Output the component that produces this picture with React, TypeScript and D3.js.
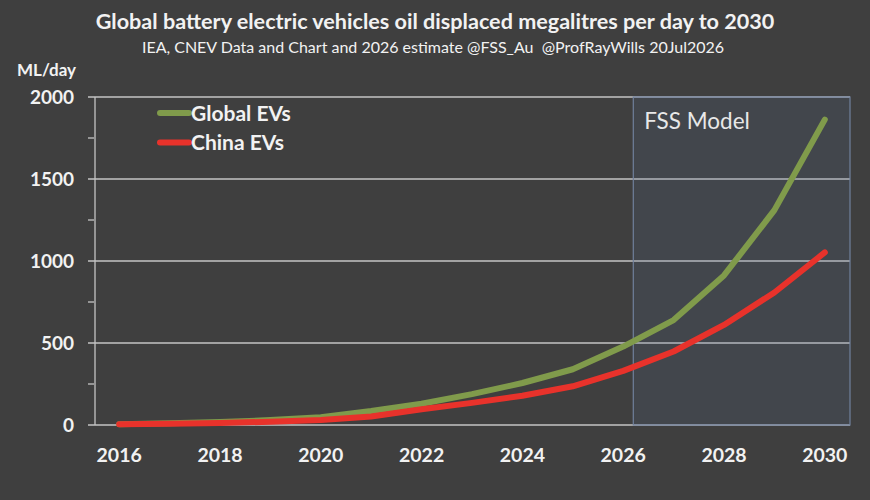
import React, { useEffect, useRef } from 'react';
import * as d3 from 'd3';

// Data (ML/day)
const years = [2016, 2017, 2018, 2019, 2020, 2021, 2022, 2023, 2024, 2025, 2026, 2027, 2028, 2029, 2030];
const globalEVs = [5, 10, 18, 30, 48, 85, 130, 188, 256, 340, 478, 640, 912, 1310, 1862];
const chinaEVs = [4, 7, 12, 20, 30, 52, 96, 135, 178, 236, 330, 448, 610, 808, 1052];
const yTicks = [0, 500, 1000, 1500, 2000];
const xTickYears = [2016, 2018, 2020, 2022, 2024, 2026, 2028, 2030];
const modelStart = 2026.2;

const series = [
  { name: 'Global EVs', values: globalEVs, color: '#809b4b' },
  { name: 'China EVs', values: chinaEVs, color: '#e8322b' },
];

const App: React.FC = () => {
  const svgRef = useRef<SVGSVGElement>(null);

  useEffect(() => {
    const svg = d3.select(svgRef.current);
    svg.selectAll('*').remove();

    const W = 870, H = 500;
    const left = 94, right = 850, top = 97, bottom = 425;
    const font = 'Lato, "Open Sans", sans-serif';

    svg.attr('width', W).attr('height', H);
    svg.append('rect').attr('width', W).attr('height', H).attr('fill', '#3f3f3f');

    const x = d3.scalePoint<number>().domain(years).range([left, right]).padding(0.5);
    const step = x.step();
    const xAt = (yr: number) => x(years[0])! + (yr - years[0]) * step;
    const y = d3.scaleLinear().domain([0, 2000]).range([bottom, top]);

    // Title
    svg.append('text')
      .attr('x', 435).attr('y', 29)
      .attr('text-anchor', 'middle')
      .attr('font-family', font).attr('font-weight', 700).attr('font-size', 21.6)
      .attr('fill', '#f2f2f2')
      .text('Global battery electric vehicles oil displaced megalitres per day to 2030');
    svg.append('text')
      .attr('x', 433).attr('y', 53)
      .attr('text-anchor', 'middle')
      .attr('font-family', font).attr('font-size', 16)
      .attr('fill', '#f2f2f2')
      .style('white-space', 'pre')
      .text('IEA, CNEV Data and Chart and 2026 estimate @FSS_Au  @ProfRayWills 20Jul2026');

    svg.append('text')
      .attr('x', 17).attr('y', 76)
      .attr('font-family', font).attr('font-weight', 700).attr('font-size', 17)
      .attr('fill', '#f2f2f2')
      .text('ML/day');

    // Gridlines
    svg.append('g')
      .selectAll('line')
      .data(yTicks)
      .join('line')
      .attr('x1', left - 6).attr('x2', right)
      .attr('y1', d => y(d)).attr('y2', d => y(d))
      .attr('stroke', '#c4c4c4').attr('stroke-width', 1.3);

    // Minor ticks
    svg.append('g')
      .selectAll('line')
      .data(d3.range(250, 2000, 500))
      .join('line')
      .attr('x1', left - 6).attr('x2', left)
      .attr('y1', d => y(d)).attr('y2', d => y(d))
      .attr('stroke', '#c4c4c4').attr('stroke-width', 1.3);

    // Y axis line
    svg.append('line')
      .attr('x1', left + 1).attr('x2', left + 1)
      .attr('y1', top).attr('y2', bottom)
      .attr('stroke', '#c4c4c4').attr('stroke-width', 1.3);

    // FSS model box
    svg.append('rect')
      .attr('x', xAt(modelStart)).attr('y', top)
      .attr('width', right - xAt(modelStart)).attr('height', bottom - top)
      .attr('fill', '#5a6f96').attr('fill-opacity', 0.16)
      .attr('stroke', '#71819d').attr('stroke-width', 1.2);
    svg.append('text')
      .attr('x', xAt(modelStart) + 11).attr('y', 129)
      .attr('font-family', 'Lato, sans-serif').attr('font-size', 22.5)
      .attr('fill', '#e8e8e8')
      .text('FSS Model');

    // Y tick labels
    svg.append('g')
      .selectAll('text')
      .data(yTicks)
      .join('text')
      .attr('x', 74).attr('y', d => y(d))
      .attr('dy', '0.36em')
      .attr('text-anchor', 'end')
      .attr('font-family', font).attr('font-weight', 700).attr('font-size', 19)
      .attr('fill', '#f2f2f2')
      .text(d => d);

    // X tick labels
    svg.append('g')
      .selectAll('text')
      .data(xTickYears)
      .join('text')
      .attr('x', d => x(d)!).attr('y', 462)
      .attr('text-anchor', 'middle')
      .attr('font-family', font).attr('font-weight', 700).attr('font-size', 19.5)
      .attr('fill', '#f2f2f2')
      .text(d => d);

    // Lines
    const line = d3.line<number>()
      .x((_, i) => x(years[i])!)
      .y(d => y(d));

    series.forEach(s => {
      svg.append('path')
        .datum(s.values)
        .attr('d', line)
        .attr('fill', 'none')
        .attr('stroke', s.color)
        .attr('stroke-width', 6)
        .attr('stroke-linejoin', 'round')
        .attr('stroke-linecap', 'round');
    });

    // Legend
    series.forEach((s, i) => {
      const ly = 113 + i * 29.5;
      svg.append('line')
        .attr('x1', 160).attr('x2', 189)
        .attr('y1', ly).attr('y2', ly)
        .attr('stroke', s.color).attr('stroke-width', 6)
        .attr('stroke-linecap', 'round');
      svg.append('text')
        .attr('x', 191).attr('y', ly)
        .attr('dy', '0.36em')
        .attr('font-family', font).attr('font-weight', 700).attr('font-size', 21)
        .attr('fill', '#f2f2f2')
        .text(s.name);
    });
  }, []);

  return (
    <div style={{ position: 'fixed', left: 0, top: 0 }}>
      <svg ref={svgRef} style={{ display: 'block' }}></svg>
    </div>
  );
};

export default App;
